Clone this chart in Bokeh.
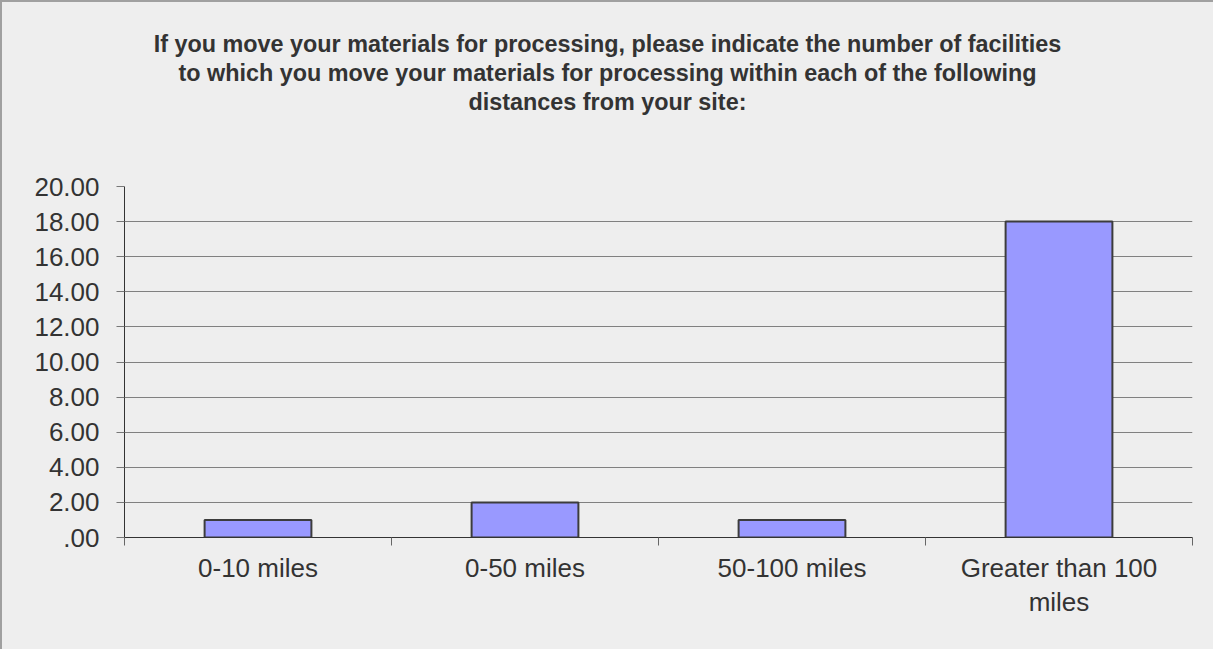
from bokeh.plotting import figure
from bokeh.models import FixedTicker, Range1d, Div
from bokeh.layouts import column
from bokeh.embed import file_html
from bokeh.resources import INLINE

# ---- data ----
categories = ["0-10 miles", "0-50 miles", "50-100 miles", "Greater than 100\nmiles"]
values = [1, 2, 1, 18]
y_ticks = [0, 2, 4, 6, 8, 10, 12, 14, 16, 18, 20]
y_tick_labels = [".00", "2.00", "4.00", "6.00", "8.00", "10.00",
                 "12.00", "14.00", "16.00", "18.00", "20.00"]
title_lines = [
    "If you move your materials for processing, please indicate the number of facilities",
    "to which you move your materials for processing within each of the following",
    "distances from your site:",
]

positions = [i + 0.5 for i in range(len(categories))]
boundaries = list(range(len(categories) + 1))

BG = "#EEEEEE"
TXT = "#333333"
FONT = "Liberation Sans"
W = 1211
TITLE_H = 140

title = Div(
    text=("<div style=\"text-align:center; font-family:'Liberation Sans'; font-weight:bold; "
          f"font-size:24.6px; line-height:29px; color:{TXT}; padding-top:27px; width:{W}px; "
          "transform:scaleX(0.95); transform-origin:50% 0\">"
          + "<br>".join(title_lines) + "</div>"),
    width=W, height=TITLE_H, margin=0,
    styles={"background-color": BG},
)

p = figure(width=W, height=647 - TITLE_H,
           x_range=Range1d(0, len(categories)), y_range=Range1d(y_ticks[0], y_ticks[-1]),
           output_backend="svg", toolbar_location=None,
           min_border_left=122, min_border_right=21,
           min_border_top=184 - TITLE_H, min_border_bottom=112)
p.background_fill_color = BG
p.border_fill_color = BG
p.outline_line_color = None

p.vbar(x=positions, top=values, bottom=0, width=0.4,
       fill_color="#9999FF", line_color="#3C3C3C", line_width=2)

# x axis
xa = p.xaxis[0]
xa.ticker = FixedTicker(ticks=positions, minor_ticks=boundaries)
xa.major_label_overrides = {pos: cat for pos, cat in zip(positions, categories)}
xa.major_tick_line_color = None
xa.minor_tick_in = 0
xa.minor_tick_out = 8
xa.minor_tick_line_color = "#666666"
xa.axis_line_color = "#333333"
xa.major_label_text_font = FONT
xa.major_label_text_font_size = "26px"
xa.major_label_text_line_height = 1.15
xa.major_label_text_color = TXT
xa.major_label_standoff = 7

# y axis
ya = p.yaxis[0]
ya.ticker = FixedTicker(ticks=y_ticks)
ya.major_label_overrides = {t: l for t, l in zip(y_ticks, y_tick_labels)}
ya.major_tick_in = 0
ya.major_tick_out = 8
ya.major_tick_line_color = "#777777"
ya.minor_tick_line_color = None
ya.axis_line_color = "#333333"
ya.major_label_text_font = FONT
ya.major_label_text_font_size = "26px"
ya.major_label_text_color = TXT
ya.major_label_standoff = 17

p.xgrid.visible = False
p.ygrid.ticker = FixedTicker(ticks=y_ticks)
p.ygrid.grid_line_color = "#808080"
p.ygrid.grid_line_width = 1

layout = column(title, p, spacing=0,
                styles={"background-color": BG,
                        "border-left": "2px solid #A0A0A0",
                        "border-top": "2px solid #A0A0A0"})

open("out.html", "w").write(file_html(layout, INLINE))
